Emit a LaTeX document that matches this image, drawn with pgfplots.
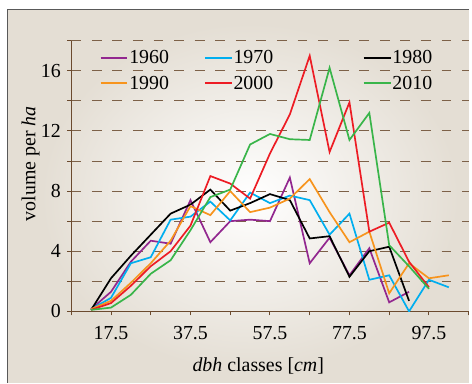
\documentclass[border=0pt]{standalone}
\usepackage{fontspec}
\setmainfont{Liberation Serif}
\usepackage{pgfplots}
\pgfplotsset{compat=1.18}
\definecolor{cpurple}{HTML}{92278F}
\definecolor{cblue}{HTML}{00AEEF}
\definecolor{corange}{HTML}{F7941D}
\definecolor{cred}{HTML}{ED1C24}
\definecolor{cgreen}{HTML}{39B54A}
\definecolor{brownax}{HTML}{6B4A2E}
\definecolor{browngrid}{HTML}{7D6148}
\definecolor{bgc}{HTML}{E4DED4}
\begin{document}
\begin{tikzpicture}
\fill[white] (-71.7pt,-71.7pt) rectangle (400.3pt,313.3pt);
\fill[bgc] (-64.7pt,-71.7pt) rectangle (400.3pt,304.3pt);
\shade[inner color=white, outer color=bgc] (-30pt,-60pt) rectangle (390pt,290pt);
\draw[black!65, line width=1.3pt] (-64.4pt,-71.7pt) -- (-64.4pt,304pt) -- (400.3pt,304pt);
\begin{axis}[
  at={(0pt,0pt)}, anchor=south west,
  scale only axis, width=400.3pt, height=272.3pt,
  xmin=7.5, xmax=107.6, ymin=0, ymax=18,
  axis x line*=bottom, axis y line*=left,
  axis line style={brownax, line width=1pt},
  xtick={7.5,17.5,...,107.5},
  xticklabels={{},17.5,{},37.5,{},57.5,{},77.5,{},97.5,{}},
  ytick={0,2,...,18},
  yticklabels={0,{},4,{},8,{},12,{},16,{}},
  tick align=outside, major tick length=4pt,
  tick style={brownax, line width=1pt},
  ymajorgrids,
  grid style={browngrid, line width=1pt, dash pattern=on 10pt off 10.7pt},
  /pgf/number format/assume math mode=true,
  tick label style={font=\fontsize{20}{24}\selectfont},
  xticklabel style={yshift=-8pt},
  yticklabel style={xshift=-3pt},
  xlabel={\textit{dbh} classes [\textit{cm}]},
  ylabel={volume per \textit{ha}},
  label style={font=\fontsize{20}{24}\selectfont},
  xlabel style={at={(axis description cs:0.47,-0.2)}, anchor=center},
  ylabel style={at={(axis description cs:-0.102,0.545)}, anchor=center},
  legend columns=3,
  legend image code/.code={\draw[#1, line width=1.9pt] (0pt,0pt) -- (27pt,0pt);},
  legend style={at={(0.0707,0.969)}, anchor=north west, draw=none, fill=none,
    inner sep=0pt, row sep=9pt,
    font=\fontsize{20}{24}\selectfont,
    nodes={inner sep=1pt, anchor=west},
    /tikz/column 2/.style={column sep=34pt},
    /tikz/column 4/.style={column sep=89pt}},
  every axis plot/.append style={line width=1.7pt, mark=none},
]
\addplot[cpurple] coordinates {(12.5,0.15) (17.5,1.3) (22.5,3.3) (27.5,4.7) (32.5,4.5) (37.5,7.4) (42.5,4.6) (47.5,6.0) (52.5,6.1) (57.5,6.0) (62.5,8.9) (67.5,3.2) (72.5,4.9) (77.5,2.4) (82.5,4.2) (87.5,0.6) (92.5,1.3)};
\addlegendentry{1960}
\addplot[cblue] coordinates {(12.5,0.15) (17.5,0.9) (22.5,3.2) (27.5,3.6) (32.5,6.1) (37.5,6.3) (42.5,7.3) (47.5,6.05) (52.5,7.9) (57.5,7.2) (62.5,7.7) (67.5,7.4) (72.5,5.1) (77.5,6.5) (82.5,2.1) (87.5,2.4) (92.5,0.0) (97.5,2.1) (102.5,1.6)};
\addlegendentry{1970}
\addplot[black] coordinates {(12.5,0.1) (17.5,2.2) (22.5,3.7) (27.5,5.1) (32.5,6.5) (37.5,7.1) (42.5,8.1) (47.5,6.7) (52.5,7.2) (57.5,7.8) (62.5,7.4) (67.5,4.85) (72.5,5.0) (77.5,2.3) (82.5,4.0) (87.5,4.3) (92.5,0.7)};
\addlegendentry{1980}
\addplot[corange] coordinates {(12.5,0.15) (17.5,0.7) (22.5,1.9) (27.5,3.2) (32.5,4.7) (37.5,7.0) (42.5,6.4) (47.5,8.0) (52.5,6.6) (57.5,6.9) (62.5,7.5) (67.5,8.8) (72.5,6.6) (77.5,4.6) (82.5,5.3) (87.5,1.2) (92.5,3.2) (97.5,2.2) (102.5,2.4)};
\addlegendentry{1990}
\addplot[cred] coordinates {(12.5,0.1) (17.5,0.55) (22.5,1.7) (27.5,3.0) (32.5,4.0) (37.5,5.7) (42.5,9.0) (47.5,8.5) (52.5,7.5) (57.5,10.5) (62.5,13.1) (67.5,17.0) (72.5,10.6) (77.5,13.9) (82.5,5.3) (87.5,5.9) (92.5,3.3) (97.5,1.6)};
\addlegendentry{2000}
\addplot[cgreen] coordinates {(12.5,0.1) (17.5,0.25) (22.5,1.1) (27.5,2.5) (32.5,3.4) (37.5,5.4) (42.5,7.6) (47.5,8.1) (52.5,11.1) (57.5,11.8) (62.5,11.45) (67.5,11.4) (72.5,16.2) (77.5,11.4) (82.5,13.2) (87.5,4.4) (92.5,3.0) (97.5,1.5)};
\addlegendentry{2010}
\end{axis}
\end{tikzpicture}
\end{document}
